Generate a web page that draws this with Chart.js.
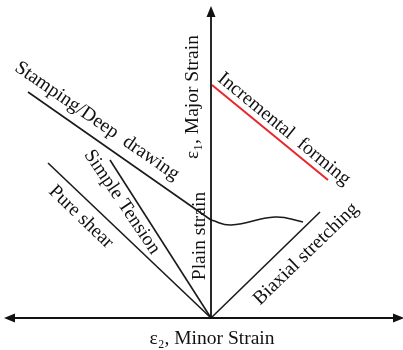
<!DOCTYPE html>
<html>
<head>
<meta charset="utf-8">
<script src="https://cdn.jsdelivr.net/npm/chart.js@4.4.1/dist/chart.umd.min.js"></script>
<style>
 body{margin:0;background:#fff;}
 #wrap{width:403px;height:350px;}
</style>
</head>
<body>
<div id="wrap"><canvas id="fld"></canvas></div>
<script>
/* strain paths (minor strain, major strain) */
var stamping=[{x:-0.915,y:1.13},{x:0,y:0.49}];
var limitCurve=[{x:0,y:0.49},{x:0.1,y:0.465},{x:0.32,y:0.505},{x:0.46,y:0.48}];
var simpleTension=[{x:-0.505,y:0.79},{x:0,y:0}];
var pureShear=[{x:-0.815,y:0.775},{x:0,y:0}];
var biaxial=[{x:0,y:0},{x:0.545,y:0.53}];
var incremental=[{x:0.005,y:1.165},{x:0.585,y:0.69}];
var minorAxis=[{x:-1.0,y:0},{x:0.93,y:0}];
var majorAxis=[{x:0,y:0},{x:0,y:1.52}];

/* labels: text, anchor, angle */
var labels=[
 {t:"Stamping/Deep  drawing",x:-0.57,y:0.985,a:34.5},
 {t:"Simple Tension",x:-0.445,y:0.58,a:56},
 {t:"Pure shear",x:-0.65,y:0.505,a:44},
 {t:"\u03b5\u2081, Major Strain",x:-0.09,y:1.105,a:-90},
 {t:"Plain strain",x:-0.055,y:0.41,a:-90},
 {t:"Incremental  forming",x:0.365,y:0.945,a:39.5},
 {t:"Biaxial stretching",x:0.475,y:0.32,a:-44},
 {t:"\u03b5\u2082, Minor Strain",x:0.005,y:-0.105,a:0}
];

function line(data,color,width,tension){
 return {data:data,showLine:true,borderColor:color,borderWidth:width,pointRadius:0,fill:false,tension:tension||0,cubicInterpolationMode:'default'};
}

/* arrows + texts plugin */
var decor={
 id:'decor',
 afterDatasetsDraw:function(chart){
  var c=chart.ctx,sx=chart.scales.x,sy=chart.scales.y;
  function px(x){return sx.getPixelForValue(x);}
  function py(y){return sy.getPixelForValue(y);}
  function arrow(x,y,dx,dy){
   var X=px(x),Y=py(y),L=11,W=4.5;
   c.beginPath();
   c.moveTo(X,Y);
   c.lineTo(X-dx*L-dy*W,Y-dy*L+dx*W);
   c.lineTo(X-dx*L+dy*W,Y-dy*L-dx*W);
   c.closePath();
   c.fillStyle='#111';
   c.fill();
  }
  c.save();
  arrow(minorAxis[1].x+0.035,0,1,0);
  arrow(minorAxis[0].x-0.035,0,-1,0);
  arrow(0,majorAxis[1].y+0.04,0,-1);
  c.font='19.5px "Liberation Serif"';
  c.fillStyle='#111';
  c.textAlign='center';
  c.textBaseline='middle';
  labels.forEach(function(l){
   c.save();
   c.translate(px(l.x),py(l.y));
   c.rotate(l.a*Math.PI/180);
   c.fillText(l.t,0,0);
   c.restore();
  });
  c.restore();
 }
};

new Chart(document.getElementById('fld'),{
 type:'scatter',
 data:{datasets:[
  line(minorAxis,'#111',1.8),
  line(majorAxis,'#111',1.8),
  line(stamping,'#1a1a1a',1.6),
  line(limitCurve,'#1a1a1a',1.6,0.45),
  line(simpleTension,'#1a1a1a',1.6),
  line(pureShear,'#1a1a1a',1.6),
  line(biaxial,'#1a1a1a',1.6),
  line(incremental,'#e8262b',2)
 ]},
 options:{
  responsive:true,
  maintainAspectRatio:false,
  animation:false,
  layout:{padding:0},
  plugins:{legend:{display:false},tooltip:{enabled:false}},
  scales:{
   x:{type:'linear',min:-1.055,max:0.96,display:false},
   y:{type:'linear',min:-0.16,max:1.59,display:false}
  }
 },
 plugins:[decor]
});
</script>
</body>
</html>
